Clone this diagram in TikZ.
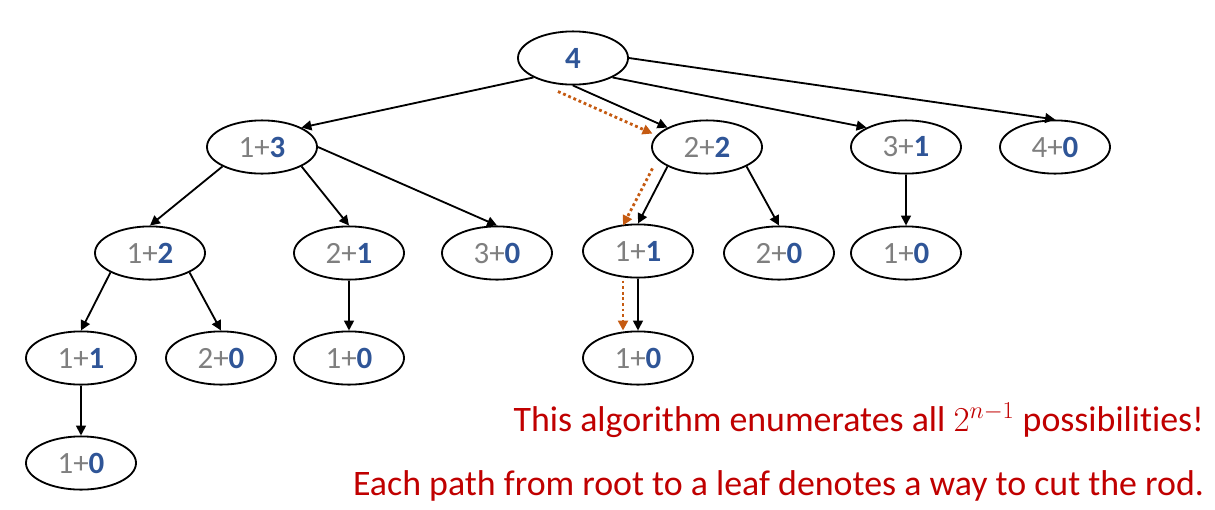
\documentclass[tikz,border=0pt]{standalone}
\usepackage{fontspec}
\setmainfont{Carlito}[Ligatures=NoCommon]
\usepackage{tikz}
\usetikzlibrary{shapes.geometric,arrows.meta,calc}

\definecolor{lgray}{HTML}{7F7F7F}
\definecolor{dblue}{HTML}{2F5597}
\definecolor{dred}{HTML}{C00000}
\definecolor{trace}{HTML}{C55A11}

% left part gray, remaining part bold blue
\newcommand{\cut}[2]{\textcolor{lgray}{#1+}\textcolor{dblue}{\textbf{#2}}}

\begin{document}
\begin{tikzpicture}[x=0.025cm, y=0.025cm,
    sub/.style={draw, ellipse, line width=1.3pt, minimum width=2.75cm, minimum height=1.33cm, inner sep=0pt, font=\fontsize{22}{24}\selectfont},
    edge/.style={line width=1.3pt, -{Triangle[length=7pt,width=7pt]}},
    path/.style={trace, line width=2pt, dotted, -{Triangle[length=7pt,width=7pt]}},
    note/.style={anchor=base east, text=dred, font=\fontsize{25.5}{28}\selectfont}]
    \useasboundingbox (0,0) rectangle (1215,-509);

    % root and first cut
    \node[sub] (n4) at (573,-58) {\textcolor{dblue}{\textbf{4}}};
    \node[sub] (n13) at (262,-147) {\cut{1}{3}};
    \node[sub] (n22) at (707,-147) {\cut{2}{2}};
    \node[sub] (n31) at (906,-147) {\cut{3}{1}};
    \node[sub] (n40) at (1055,-147) {\cut{4}{0}};

    % second level
    \node[sub] (n12) at (150,-253) {\cut{1}{2}};
    \node[sub] (n21) at (349,-253) {\cut{2}{1}};
    \node[sub] (n30) at (497,-253) {\cut{3}{0}};
    \node[sub] (m11) at (638,-251) {\cut{1}{1}};
    \node[sub] (m20) at (779,-253) {\cut{2}{0}};
    \node[sub] (k10) at (906,-253) {\cut{1}{0}};

    % third and fourth level
    \node[sub] (n11) at (81,-358) {\cut{1}{1}};
    \node[sub] (n20) at (221,-358) {\cut{2}{0}};
    \node[sub] (n10) at (349,-358) {\cut{1}{0}};
    \node[sub] (m10) at (638,-358) {\cut{1}{0}};
    \node[sub] (p10) at (81,-463) {\cut{1}{0}};

    \draw[edge] (n4.south west) -- (n13.north east);
    \draw[edge] (n4.south) -- (n22.north west);
    \draw[edge] (n4.south east) -- (n31.north west);
    \draw[edge] (n4.east) -- (n40.north);

    \draw[edge] (n13.south west) -- (n12.north);
    \draw[edge] (n13.south east) -- (n21.north);
    \draw[edge] (n13.east) -- (n30.north);
    \draw[edge] (n22.south west) -- (m11.north);
    \draw[edge] (n22.south east) -- (m20.north);
    \draw[edge] (n31.south) -- (k10.north);

    \draw[edge] (n12.south west) -- (n11.north);
    \draw[edge] (n12.south east) -- (n20.north);
    \draw[edge] (n21.south) -- (n10.north);
    \draw[edge] (m11.south) -- (m10.north);
    \draw[edge] (n11.south) -- (p10.north);

    % one way to cut the rod
    \draw[path] ($(n4.south)+(-15,-6)$) -- ($(n22.north west)+(-15,-6)$);
    \draw[path] ($(n22.south west)+(-15,-2)$) -- ($(m11.north)+(-15,-2)$);
    \draw[path] ($(m11.south)+(-15,-2)$) -- ($(m10.north)+(-15,0)$);

    \node[note] (note1) at (1209,-431) {This algorithm enumerates all $2^{n-1}$ possibilities!};
    \node[note] (note2) at (1209,-495) {Each path from root to a leaf denotes a way to cut the rod.};
\end{tikzpicture}
\end{document}
